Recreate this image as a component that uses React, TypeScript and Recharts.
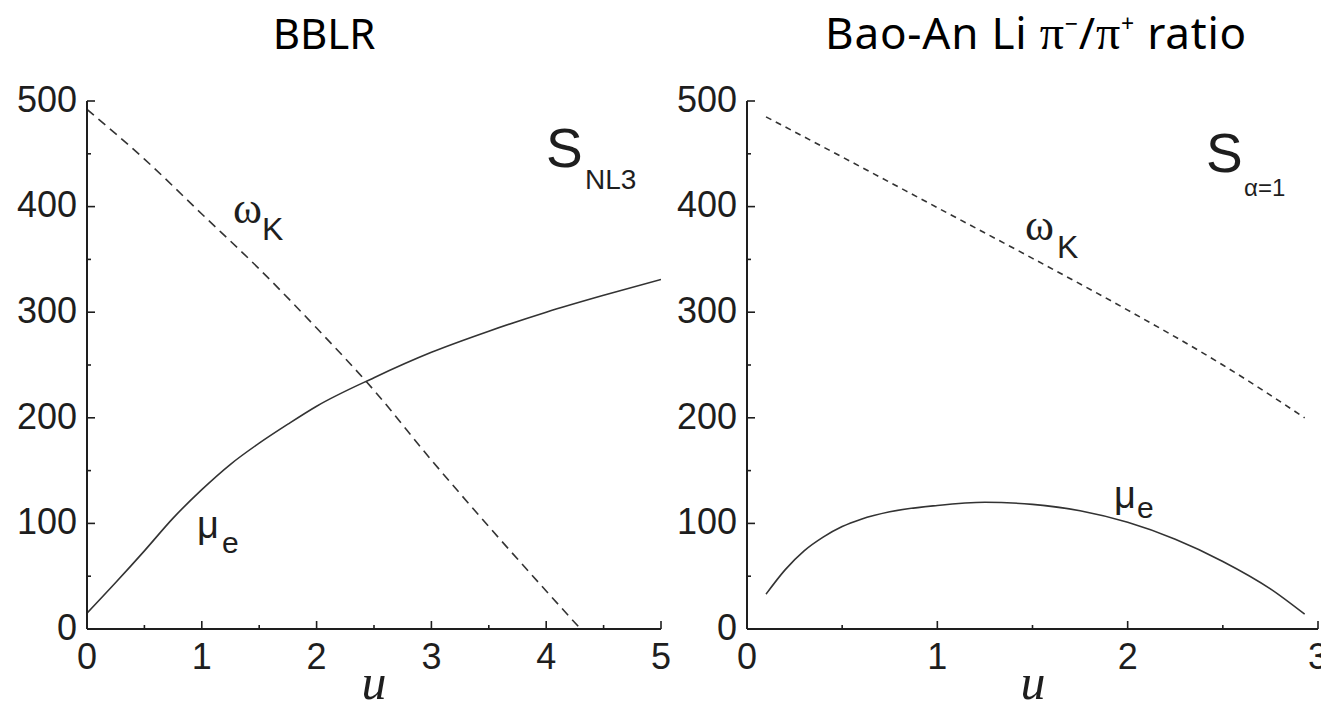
import React from "react";
import { LineChart, Line, XAxis, YAxis } from "recharts";

// ---- data ----
const leftTitle = "BBLR";
const leftMuE = [
  { u: 0, v: 15 }, { u: 0.25, v: 44 }, { u: 0.5, v: 74 }, { u: 0.75, v: 105 },
  { u: 1, v: 132 }, { u: 1.25, v: 156 }, { u: 1.5, v: 176 }, { u: 1.75, v: 194 },
  { u: 2, v: 211 }, { u: 2.5, v: 238 }, { u: 3, v: 262 }, { u: 3.5, v: 282 },
  { u: 4, v: 300 }, { u: 4.5, v: 316 }, { u: 5, v: 331 },
];
const leftOmegaK = [
  { u: 0, v: 492 }, { u: 0.5, v: 445 }, { u: 1, v: 393 }, { u: 1.5, v: 341 },
  { u: 2, v: 285 }, { u: 2.5, v: 226 }, { u: 3, v: 160 }, { u: 3.5, v: 97 },
  { u: 4, v: 36 }, { u: 4.3, v: 0 },
];
const rightMuE = [
  { u: 0.1, v: 33 }, { u: 0.2, v: 56 }, { u: 0.3, v: 74 }, { u: 0.4, v: 87 },
  { u: 0.5, v: 97 }, { u: 0.6, v: 104 }, { u: 0.75, v: 111 }, { u: 1, v: 117 },
  { u: 1.25, v: 120 }, { u: 1.5, v: 118 }, { u: 1.75, v: 112 }, { u: 2, v: 101 },
  { u: 2.25, v: 85 }, { u: 2.5, v: 64 }, { u: 2.75, v: 38 }, { u: 2.93, v: 14 },
];
const rightOmegaK = [
  { u: 0.1, v: 485 }, { u: 0.5, v: 447 }, { u: 1, v: 399 }, { u: 1.5, v: 351 },
  { u: 2, v: 302 }, { u: 2.5, v: 250 }, { u: 2.93, v: 200 },
];
const leftXTicks = [0, 0.5, 1, 1.5, 2, 2.5, 3, 3.5, 4, 4.5, 5];
const rightXTicks = [0, 0.5, 1, 1.5, 2, 2.5, 3];
const yTicks = [0, 50, 100, 150, 200, 250, 300, 350, 400, 450, 500];

const INK = "#1e1e1e";
const TICK_FONT = "'Liberation Sans', Arial, sans-serif";
const SERIF = "'Liberation Serif', 'Times New Roman', serif";
const TITLE_FONT = "'Noto Sans', 'Open Sans', sans-serif";

type Orient = "bottom" | "top" | "left" | "right";

function makeTick(orient: Orient, majorStep: number, showLabel: boolean) {
  return (props: any) => {
    const { x, y, payload } = props;
    const v = Number(payload.value);
    const major = Math.abs(v / majorStep - Math.round(v / majorStep)) < 1e-6;
    const len = major ? 8 : 4;
    let x2 = x, y2 = y;
    if (orient === "bottom") y2 = y - len;
    if (orient === "top") y2 = y + len;
    if (orient === "left") x2 = x + len;
    if (orient === "right") x2 = x - len;
    return (
      <g>
        <line x1={x} y1={y} x2={x2} y2={y2} stroke={INK} strokeWidth={1.6} />
        {showLabel && major && orient === "bottom" && (
          <text x={x} y={y + 14} dy="0.71em" textAnchor="middle" fontSize={36} fontFamily={TICK_FONT} fill={INK}>
            {String(v)}
          </text>
        )}
        {showLabel && major && orient === "left" && (
          <text x={x - 10} y={y} dy="0.3em" textAnchor="end" fontSize={36} fontFamily={TICK_FONT} fill={INK}>
            {String(v)}
          </text>
        )}
      </g>
    );
  };
}

function Panel({ xMax, xTicks, mu, omega, dash, rightMargin, width }: any) {
  return (
    <LineChart
      width={width}
      height={712}
      margin={{ top: 101, right: rightMargin, bottom: 23, left: 27 }}
    >
      <XAxis
        xAxisId="b"
        type="number"
        dataKey="u"
        domain={[0, xMax]}
        ticks={xTicks}
        interval={0}
        height={60}
        tickSize={0}
        tickMargin={0}
        tickLine={false}
        axisLine={{ stroke: INK, strokeWidth: 2 }}
        tick={makeTick("bottom", 1, true)}
        allowDataOverflow
      />
      <XAxis
        xAxisId="t"
        orientation="top"
        type="number"
        dataKey="u"
        domain={[0, xMax]}
        ticks={xTicks}
        interval={0}
        height={0}
        tickSize={0}
        tickMargin={0}
        tickLine={false}
        axisLine={{ stroke: INK, strokeWidth: 2 }}
        tick={makeTick("top", 1, false)}
        allowDataOverflow
      />
      <YAxis
        yAxisId="l"
        type="number"
        domain={[0, 500]}
        ticks={yTicks}
        interval={0}
        width={60}
        tickSize={0}
        tickMargin={0}
        tickLine={false}
        axisLine={{ stroke: INK, strokeWidth: 2 }}
        tick={makeTick("left", 100, true)}
        allowDataOverflow
      />
      <YAxis
        yAxisId="r"
        orientation="right"
        type="number"
        domain={[0, 500]}
        ticks={yTicks}
        interval={0}
        width={0}
        tickSize={0}
        tickMargin={0}
        tickLine={false}
        axisLine={{ stroke: INK, strokeWidth: 2 }}
        tick={makeTick("right", 100, false)}
        allowDataOverflow
      />
      <Line
        xAxisId="b"
        yAxisId="l"
        data={omega}
        dataKey="v"
        type="monotone"
        stroke="#333"
        strokeWidth={1.6}
        strokeDasharray={dash}
        dot={false}
        isAnimationActive={false}
      />
      <Line
        xAxisId="b"
        yAxisId="l"
        data={mu}
        dataKey="v"
        type="monotone"
        stroke="#333"
        strokeWidth={1.6}
        dot={false}
        isAnimationActive={false}
      />
    </LineChart>
  );
}

export default function App() {
  return (
    <div style={{ position: "absolute", left: 0, top: 0, width: 1321, height: 712, background: "#fff", overflow: "hidden" }}>
      <div style={{ position: "absolute", left: 0, top: 0 }}>
        <Panel width={700} xMax={5} xTicks={leftXTicks} mu={leftMuE} omega={leftOmegaK} dash="9 6" rightMargin={39} />
      </div>
      <div style={{ position: "absolute", left: 660, top: 0 }}>
        <Panel width={661} xMax={3} xTicks={rightXTicks} mu={rightMuE} omega={rightOmegaK} dash="6 5" rightMargin={3} />
      </div>
      <svg width={1321} height={712} style={{ position: "absolute", left: 0, top: 0, pointerEvents: "none" }}>
        {/* titles */}
        <text x={324} y={49} textAnchor="middle" fontSize={42} fontFamily={TITLE_FONT} fill="#000">{leftTitle}</text>
        <text x={825} y={49} fontSize={44} letterSpacing={0.8} fontFamily={TITLE_FONT} fill="#000">
          Bao-An Li{" "}
          <tspan fontFamily={SERIF} fontSize={48}>π</tspan>
          <tspan fontSize={23} dy={-17}>−</tspan>
          <tspan dy={17}>/</tspan>
          <tspan fontFamily={SERIF} fontSize={48}>π</tspan>
          <tspan fontSize={23} dy={-17}>+</tspan>
          <tspan dy={17}> ratio</tspan>
        </text>
        {/* axis labels */}
        <text x={374} y={699} textAnchor="middle" fontSize={50} fontStyle="italic" fontFamily={SERIF} fill={INK}>u</text>
        <text x={1033} y={699} textAnchor="middle" fontSize={50} fontStyle="italic" fontFamily={SERIF} fill={INK}>u</text>
        {/* left annotations */}
        <text x={546} y={167} fontSize={55} fontFamily={TICK_FONT} fill={INK}>S</text>
        <text x={585} y={189} fontSize={28} fontFamily={TICK_FONT} fill={INK}>NL3</text>
        <text x={233} y={223} fontSize={44} fontFamily={SERIF} fill={INK}>ω</text>
        <text x={262} y={240} fontSize={32} fontFamily={TICK_FONT} fill={INK}>K</text>
        <text x={197} y={538} fontSize={38} fontFamily={TICK_FONT} fill={INK}>μ</text>
        <text x={222} y={553} fontSize={30} fontFamily={TICK_FONT} fill={INK}>e</text>
        {/* right annotations */}
        <text x={1206} y={172} fontSize={55} fontFamily={TICK_FONT} fill={INK}>S</text>
        <text x={1244} y={196} fontSize={24} fontFamily={TICK_FONT} fill={INK}>α=1</text>
        <text x={1025} y={240} fontSize={44} fontFamily={SERIF} fill={INK}>ω</text>
        <text x={1057} y={258} fontSize={32} fontFamily={TICK_FONT} fill={INK}>K</text>
        <text x={1114} y={508} fontSize={38} fontFamily={TICK_FONT} fill={INK}>μ</text>
        <text x={1137} y={518} fontSize={30} fontFamily={TICK_FONT} fill={INK}>e</text>
      </svg>
    </div>
  );
}
